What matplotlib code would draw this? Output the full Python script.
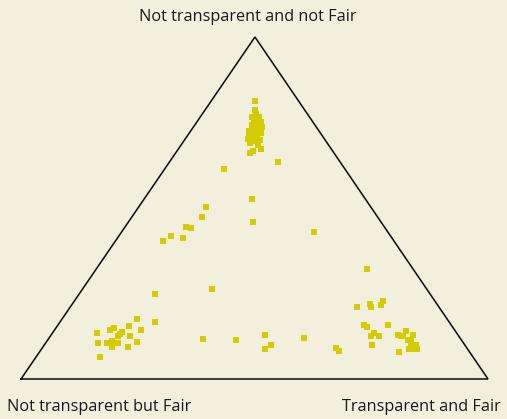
import matplotlib
matplotlib.use("Agg")
import matplotlib.pyplot as plt

# Corner labels
corner_labels = ["Not transparent and not Fair", "Not transparent but Fair", "Transparent and Fair"]

# Triangle corners (unit coordinates: base 0..1, apex height 1)
tri_x = [0.0, 1.0, 0.501, 0.0]
tri_y = [0.0, 0.0, 1.0, 0.0]

# Point positions inside the triangle
pts_x = [
    0.501, 0.501, 0.494, 0.510, 0.499, 0.506, 0.514, 0.494, 0.501, 0.510,
    0.489, 0.497, 0.508, 0.513, 0.489, 0.505, 0.494, 0.501, 0.512, 0.490,
    0.507, 0.496, 0.490, 0.513, 0.497, 0.497, 0.505, 0.499, 0.516, 0.486,
    0.503, 0.492, 0.508,
    0.550, 0.434, 0.495, 0.396, 0.387, 0.496, 0.353, 0.363, 0.627, 0.321,
    0.346, 0.303, 0.408, 0.286, 0.286, 0.258, 0.389, 0.460, 0.522, 0.535,
    0.522, 0.607, 0.674, 0.681,
    0.248, 0.231, 0.199, 0.191, 0.163, 0.216, 0.211, 0.208, 0.233, 0.165,
    0.185, 0.191, 0.195, 0.208, 0.195, 0.229, 0.248, 0.169,
    0.741, 0.719, 0.747, 0.749, 0.771, 0.775, 0.734, 0.741, 0.786, 0.756,
    0.749, 0.767, 0.752, 0.807, 0.814, 0.818, 0.824, 0.839, 0.829, 0.835,
    0.835, 0.846, 0.831, 0.839, 0.848, 0.809,
]
pts_y = [
    0.814, 0.787, 0.767, 0.767, 0.759, 0.759, 0.752, 0.743, 0.748, 0.745,
    0.726, 0.728, 0.730, 0.718, 0.713, 0.708, 0.699, 0.696, 0.699, 0.689,
    0.689, 0.668, 0.662, 0.673, 0.667, 0.737, 0.719, 0.708, 0.737, 0.702,
    0.775, 0.721, 0.684,
    0.635, 0.615, 0.527, 0.504, 0.475, 0.460, 0.445, 0.442, 0.431, 0.419,
    0.413, 0.404, 0.264, 0.249, 0.168, 0.144, 0.118, 0.115, 0.130, 0.100,
    0.089, 0.121, 0.092, 0.082,
    0.175, 0.156, 0.150, 0.143, 0.135, 0.137, 0.132, 0.126, 0.126, 0.106,
    0.106, 0.106, 0.111, 0.106, 0.094, 0.094, 0.109, 0.065,
    0.322, 0.211, 0.219, 0.211, 0.217, 0.228, 0.159, 0.153, 0.159, 0.135,
    0.127, 0.127, 0.100, 0.130, 0.127, 0.127, 0.141, 0.130, 0.115, 0.112,
    0.103, 0.100, 0.089, 0.089, 0.089, 0.080,
]

bg = "#f2f0dd"
fig = plt.figure(figsize=(5.07, 4.19), dpi=100, facecolor=bg)
ax = fig.add_axes([0, 0, 1, 1])
ax.set_facecolor(bg)
ax.set_xlim(-21 / 467, 486 / 467)
ax.set_ylim(-40 / 342, 379 / 342)
ax.axis("off")

ax.plot(tri_x, tri_y, color="#111111", lw=1.15, solid_joinstyle="miter")
ax.scatter(pts_x, pts_y, marker="s", s=13, color="#d4cb00", linewidths=0, zorder=3)

font = dict(family=["Open Sans", "DejaVu Sans"], fontsize=11.7, color="#1a1a1a")
ax.text(0.486, 1.058, corner_labels[0], ha="center", va="center", **font)
ax.text(-0.030, -0.082, corner_labels[1], ha="left", va="center", **font)
ax.text(1.028, -0.082, corner_labels[2], ha="right", va="center", **font)

fig.savefig("out.png", dpi=100, facecolor=bg)
